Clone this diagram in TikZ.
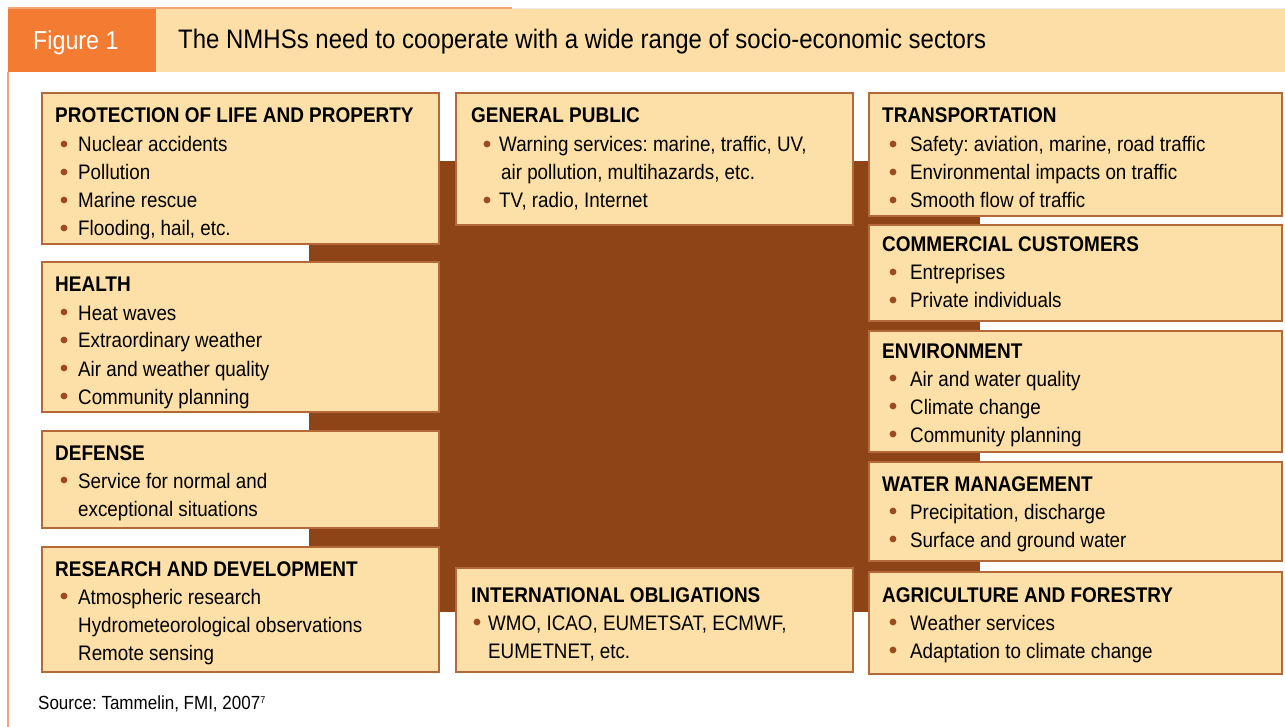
\documentclass[tikz,border=0pt]{standalone}
\usepackage{fontspec}
\setmainfont[FakeStretch=0.895]{Liberation Sans}
\frenchspacing
\definecolor{hdrorange}{HTML}{F37B32}
\definecolor{band}{HTML}{FDDEA6}
\definecolor{boxfill}{HTML}{FDDFA8}
\definecolor{boxline}{HTML}{B4693A}
\definecolor{brownbg}{HTML}{8E4416}
\definecolor{dotcol}{HTML}{9C4A1F}
\definecolor{framecol}{HTML}{F4A472}
\tikzset{
  sbox/.style={draw=boxline, fill=boxfill, line width=1.1pt, anchor=north west, inner sep=0pt, outer sep=0pt},
  hd/.style={anchor=base west, inner sep=0pt, font=\fontsize{21.2}{25}\selectfont\bfseries},
  it/.style={anchor=base west, inner sep=0pt, font=\fontsize{21}{25}\selectfont},
  dot/.style={circle, fill=dotcol, minimum size=6.8pt, inner sep=0pt},
  frameline/.style={draw=framecol, line width=1.5pt}
}
\newcommand{\bl}[5]{\node[dot] (#1d) at (#2,#4-8) {}; \node[it] (#1) at (#3,#4) {#5};}
\newcommand{\sbx}[5]{\node[sbox, minimum width=#4-#2, minimum height=#5-#3] (#1) at (#2,#3) {};}
\begin{document}
\begin{tikzpicture}[x=1pt,y=-1pt]
\useasboundingbox (0,0) rectangle (1285,727);
\fill[white] (0,0) rectangle (1285,727);
% header
\node[fill=hdrorange, anchor=north west, minimum width=148pt, minimum height=64pt, inner sep=0pt] (fig) at (8,8) {};
\node[fill=band, anchor=north west, minimum width=1129pt, minimum height=64pt, inner sep=0pt] (band) at (156,8) {};
\node[anchor=base west, inner sep=0pt, text=white, font=\fontsize{26}{30}\selectfont] (figt) at (33,50) {Figure 1};
\node[anchor=base west, inner sep=0pt, font=\fontsize{26.8}{30}\selectfont] (title) at (178,49) {The NMHSs need to cooperate with a wide range of socio-economic sectors};
\draw[frameline] (8,8) -- (512,8);
\draw[draw=black!8, line width=0.8pt] (512,8) -- (1285,8);
\draw[frameline] (8,72) -- (8,727);
% brown background
\fill[brownbg] (309,161) rectangle (980,612);
% left column
\sbx{prot}{42}{93}{439}{244}
\node[hd] (proth) at (55,123) {PROTECTION OF LIFE AND PROPERTY};
\bl{prot1}{64}{78}{152}{Nuclear accidents}
\bl{prot2}{64}{78}{180}{Pollution}
\bl{prot3}{64}{78}{208}{Marine rescue}
\bl{prot4}{64}{78}{236}{Flooding, hail, etc.}
\sbx{health}{42}{262}{439}{412}
\node[hd] (healthh) at (55,292) {HEALTH};
\bl{health1}{64}{78}{320}{Heat waves}
\bl{health2}{64}{78}{348}{Extraordinary weather}
\bl{health3}{64}{78}{376}{Air and weather quality}
\bl{health4}{64}{78}{404}{Community planning}
\sbx{def}{42}{431}{439}{528}
\node[hd] (defh) at (55,460) {DEFENSE};
\bl{def1}{64}{78}{488}{Service for normal and}
\node[it] (def2) at (78,516) {exceptional situations};
\sbx{res}{42}{547}{439}{672}
\node[hd] (resh) at (55,576) {RESEARCH AND DEVELOPMENT};
\bl{res1}{64}{78}{604}{Atmospheric research}
\node[it] (res2) at (78,632) {Hydrometeorological observations};
\node[it] (res3) at (78,660) {Remote sensing};
% middle column
\sbx{pub}{456}{93}{853}{225}
\node[hd] (pubh) at (471,123) {GENERAL PUBLIC};
\bl{pub1}{487}{499}{152}{Warning services: marine, traffic, UV,}
\node[it] (pub2) at (501,180) {air pollution, multihazards, etc.};
\bl{pub3}{487}{499}{208}{TV, radio, Internet}
\sbx{intl}{456}{568}{853}{672}
\node[hd] (intlh) at (471,602) {INTERNATIONAL OBLIGATIONS};
\bl{intl1}{477}{488}{630}{WMO, ICAO, EUMETSAT, ECMWF,}
\node[it] (intl2) at (488,658) {EUMETNET, etc.};
% right column
\sbx{trans}{869}{93}{1282}{216}
\node[hd] (transh) at (882,123) {TRANSPORTATION};
\bl{trans1}{893}{910}{152}{Safety: aviation, marine, road traffic}
\bl{trans2}{893}{910}{180}{Environmental impacts on traffic}
\bl{trans3}{893}{910}{208}{Smooth flow of traffic}
\sbx{comm}{869}{225}{1282}{321}
\node[hd] (commh) at (882,252) {COMMERCIAL CUSTOMERS};
\bl{comm1}{893}{910}{280}{Entreprises}
\bl{comm2}{893}{910}{308}{Private individuals}
\sbx{env}{869}{331}{1282}{452}
\node[hd] (envh) at (882,358) {ENVIRONMENT};
\bl{env1}{893}{910}{386}{Air and water quality}
\bl{env2}{893}{910}{414}{Climate change}
\bl{env3}{893}{910}{442}{Community planning}
\sbx{water}{869}{462}{1282}{561}
\node[hd] (waterh) at (882,491) {WATER MANAGEMENT};
\bl{water1}{893}{910}{519}{Precipitation, discharge}
\bl{water2}{893}{910}{547}{Surface and ground water}
\sbx{agri}{869}{572}{1282}{674}
\node[hd] (agrih) at (882,602) {AGRICULTURE AND FORESTRY};
\bl{agri1}{893}{910}{630}{Weather services}
\bl{agri2}{893}{910}{658}{Adaptation to climate change}
% source
\node[anchor=base west, inner sep=0pt, font=\fontsize{19}{22}\selectfont] (src) at (38,709) {Source: Tammelin, FMI, 2007\raisebox{6pt}{\fontsize{10}{12}\selectfont 7}};
\end{tikzpicture}
\end{document}
